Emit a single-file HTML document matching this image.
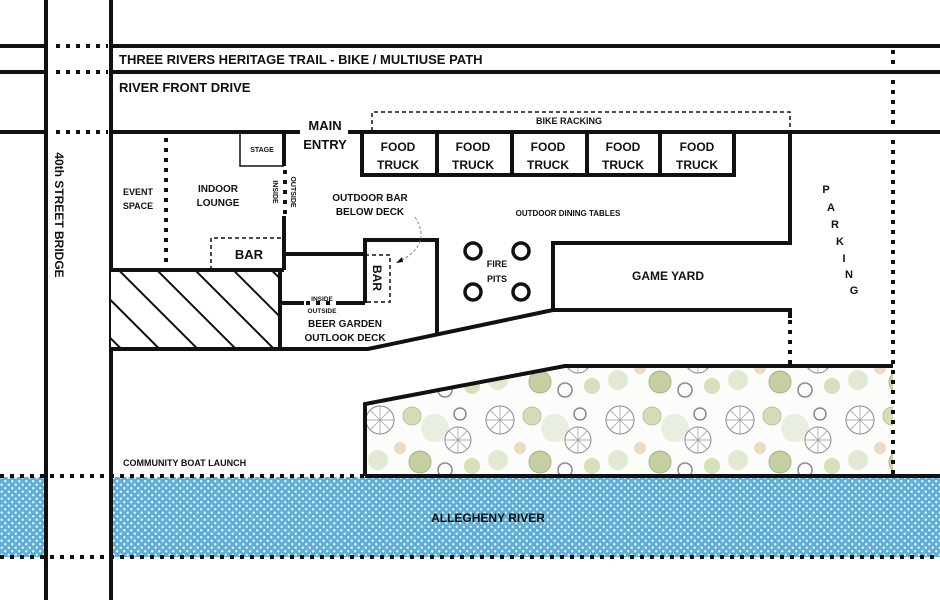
<!DOCTYPE html>
<html><head><meta charset="utf-8"><style>
html,body{margin:0;padding:0;background:#fff;}
svg{display:block;}
text{font-family:"Liberation Sans",sans-serif;font-weight:bold;fill:#111;}
</style></head><body>
<svg width="940" height="600" viewBox="0 0 940 600" xmlns="http://www.w3.org/2000/svg">
<defs>
<pattern id="water" width="7" height="7" patternUnits="userSpaceOnUse">
<rect width="7" height="7" fill="#5faed6"/>
<circle cx="1.75" cy="1.75" r="1.2" fill="#eaf7ff"/>
<circle cx="5.25" cy="5.25" r="1.2" fill="#eaf7ff"/>
</pattern>
<pattern id="trees" width="120" height="80" patternUnits="userSpaceOnUse">
<rect width="120" height="80" fill="#fcfcfa"/>
<circle cx="20" cy="20" r="14" fill="none" stroke="#8a8a96" stroke-width="1"/>
<path d="M20 6V34M6 20H34M10 10L30 30M30 10L10 30" stroke="#9a9aa6" stroke-width="0.7"/>
<circle cx="52" cy="16" r="9" fill="#d3ddb8" stroke="#b8c69c"/>
<circle cx="75" cy="28" r="14" fill="#e8eee0"/>
<circle cx="100" cy="14" r="6" fill="none" stroke="#888" stroke-width="1.5"/>
<circle cx="98" cy="40" r="13" fill="none" stroke="#8a8a96"/>
<path d="M98 27V53M85 40H111M89 31L107 49M107 31L89 49" stroke="#9a9aa6" stroke-width="0.7"/>
<circle cx="40" cy="48" r="6" fill="#ecdcc4"/>
<circle cx="18" cy="60" r="10" fill="#e2e9d2"/>
<circle cx="60" cy="62" r="11" fill="#c4d0a2" stroke="#a8b684"/>
<circle cx="85" cy="70" r="7" fill="none" stroke="#888" stroke-width="1.5"/>
<circle cx="112" cy="66" r="8" fill="#d6e0bc"/>
</pattern>
<pattern id="hatch" width="27" height="27" patternUnits="userSpaceOnUse" patternTransform="rotate(-45)">
<rect width="27" height="27" fill="#fff"/>
<line x1="0" y1="0" x2="0" y2="27" stroke="#111" stroke-width="4"/>
</pattern>
</defs>

<rect x="0" y="477" width="940" height="80" fill="url(#water)"/>
<rect x="48" y="477" width="61" height="80" fill="#fff"/>
<polygon points="365,404 565,366 893,366 893,476 365,476" fill="url(#trees)"/>
<polyline points="365,476 365,404 565,366 893,366" fill="none" stroke="#111" stroke-width="4"/>
<line x1="365" y1="476" x2="940" y2="476" stroke="#111" stroke-width="4"/>
<line x1="0" y1="476" x2="365" y2="476" stroke="#111" stroke-width="4" stroke-dasharray="4 6"/>
<line x1="0" y1="557" x2="940" y2="557" stroke="#111" stroke-width="4" stroke-dasharray="4 6"/>

<line x1="46" y1="0" x2="46" y2="600" stroke="#111" stroke-width="4"/>
<line x1="111" y1="0" x2="111" y2="600" stroke="#111" stroke-width="4"/>
<g stroke="#111" stroke-width="4">
<line x1="0" y1="46" x2="46" y2="46"/><line x1="111" y1="46" x2="940" y2="46"/>
<line x1="0" y1="72" x2="46" y2="72"/><line x1="111" y1="72" x2="940" y2="72"/>
<line x1="0" y1="132" x2="46" y2="132"/><line x1="111" y1="132" x2="300" y2="132"/><line x1="348" y1="132" x2="940" y2="132"/>
</g>
<g stroke="#111" stroke-width="4" stroke-dasharray="4 6">
<line x1="56" y1="46" x2="108" y2="46"/>
<line x1="56" y1="72" x2="108" y2="72"/>
<line x1="56" y1="132" x2="108" y2="132"/>
<line x1="893" y1="50" x2="893" y2="476"/>
<line x1="790" y1="320" x2="790" y2="366"/>
<line x1="166" y1="138" x2="166" y2="268"/>
<line x1="285" y1="170" x2="285" y2="214"/>
<line x1="306" y1="303" x2="340" y2="303"/>
</g>

<rect x="111" y="270" width="169" height="79" fill="url(#hatch)"/>
<g stroke="#111" stroke-width="4" fill="none">
<line x1="111" y1="270" x2="284" y2="270"/>
<line x1="280" y1="270" x2="280" y2="349"/>
<polyline points="111,349 368,349 553,310"/>
<polyline points="284,132 284,166"/>
<polyline points="284,216 284,270"/>
<line x1="284" y1="254" x2="365" y2="254"/>
<line x1="280" y1="303" x2="304" y2="303"/>
<line x1="340" y1="303" x2="365" y2="303"/>
<polyline points="365,303 365,240 437,240 437,333"/>
<polyline points="790,132 790,243 553,243 553,310 790,310 790,318"/>
<polyline points="362,132 362,175 734,175 734,132"/>
<line x1="437" y1="132" x2="437" y2="175"/>
<line x1="512" y1="132" x2="512" y2="175"/>
<line x1="587" y1="132" x2="587" y2="175"/>
<line x1="660" y1="132" x2="660" y2="175"/>
</g>
<polyline points="240,132 240,166 284,166" fill="none" stroke="#111" stroke-width="1.5"/>
<g fill="none" stroke="#111" stroke-width="1.5" stroke-dasharray="4 3">
<polyline points="211,270 211,238 282,238"/>
<polyline points="365,255 390,255 390,302 365,302"/>
<polyline points="372,131 372,112 790,112 790,131"/>
</g>
<path d="M415 217 Q433 245 398 262" fill="none" stroke="#888" stroke-width="1" stroke-dasharray="3 2"/>
<path d="M396 263 l6 -6 l1 5z" fill="#111"/>
<g fill="none" stroke="#111" stroke-width="3.5">
<circle cx="473" cy="251" r="8"/><circle cx="521" cy="251" r="8"/>
<circle cx="473" cy="292" r="8"/><circle cx="521" cy="292" r="8"/>
</g>

<text x="119" y="64" font-size="13">THREE RIVERS HERITAGE TRAIL - BIKE / MULTIUSE PATH</text>
<text x="119" y="92" font-size="13">RIVER FRONT DRIVE</text>
<text x="325" y="130" font-size="13" text-anchor="middle">MAIN</text>
<text x="325" y="149" font-size="13" text-anchor="middle">ENTRY</text>
<text x="262" y="152" font-size="7" text-anchor="middle">STAGE</text>
<text x="138" y="195" font-size="9" text-anchor="middle">EVENT</text>
<text x="138" y="209" font-size="9" text-anchor="middle">SPACE</text>
<text x="218" y="192" font-size="10" text-anchor="middle">INDOOR</text>
<text x="218" y="206" font-size="10" text-anchor="middle">LOUNGE</text>
<text font-size="7" text-anchor="middle" transform="translate(273,192) rotate(90)">INSIDE</text>
<text font-size="7" text-anchor="middle" transform="translate(291,192) rotate(90)">OUTSIDE</text>
<text x="249" y="259" font-size="13" text-anchor="middle">BAR</text>
<text x="370" y="201" font-size="10" text-anchor="middle">OUTDOOR BAR</text>
<text x="370" y="215" font-size="10" text-anchor="middle">BELOW DECK</text>
<text font-size="12" text-anchor="middle" transform="translate(373,278) rotate(90)">BAR</text>
<text x="322" y="301" font-size="6.5" text-anchor="middle">INSIDE</text>
<text x="322" y="313" font-size="6.5" text-anchor="middle">OUTSIDE</text>
<text x="345" y="327" font-size="10" text-anchor="middle">BEER GARDEN</text>
<text x="345" y="341" font-size="10" text-anchor="middle">OUTLOOK DECK</text>
<text x="569" y="124" font-size="9" text-anchor="middle">BIKE RACKING</text>
<g font-size="12" text-anchor="middle">
<text x="398" y="151">FOOD</text><text x="398" y="169">TRUCK</text>
<text x="473" y="151">FOOD</text><text x="473" y="169">TRUCK</text>
<text x="548" y="151">FOOD</text><text x="548" y="169">TRUCK</text>
<text x="623" y="151">FOOD</text><text x="623" y="169">TRUCK</text>
<text x="697" y="151">FOOD</text><text x="697" y="169">TRUCK</text>
</g>
<text x="568" y="216" font-size="8" text-anchor="middle">OUTDOOR DINING TABLES</text>
<text x="497" y="267" font-size="9" text-anchor="middle">FIRE</text>
<text x="497" y="282" font-size="9" text-anchor="middle">PITS</text>
<text x="668" y="280" font-size="12" text-anchor="middle">GAME YARD</text>
<g font-size="11" text-anchor="middle">
<text x="826" y="193">P</text><text x="831" y="211">A</text><text x="835" y="228">R</text>
<text x="840" y="245">K</text><text x="844" y="262">I</text><text x="849" y="278">N</text><text x="854" y="294">G</text>
</g>
<text font-size="12" text-anchor="middle" transform="translate(55,215) rotate(90)">40th STREET BRIDGE</text>
<text x="123" y="466" font-size="9">COMMUNITY BOAT LAUNCH</text>
<text x="488" y="522" font-size="12" text-anchor="middle">ALLEGHENY RIVER</text>
</svg>
</body></html>
